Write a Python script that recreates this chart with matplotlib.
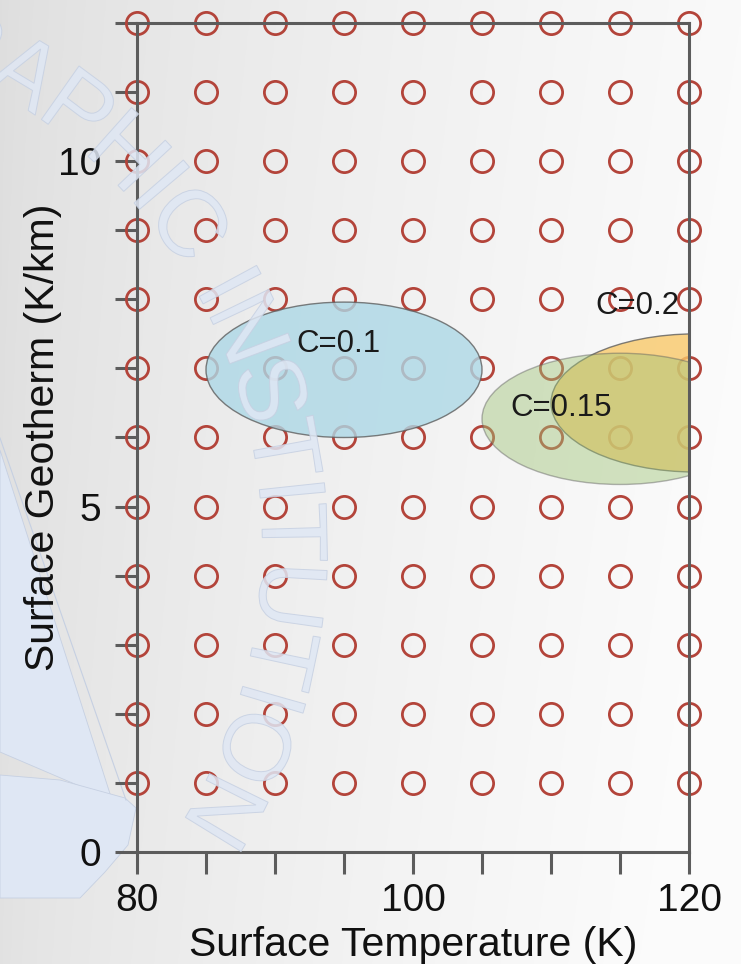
import numpy as np
import matplotlib
matplotlib.use("Agg")
import matplotlib.pyplot as plt
from matplotlib.patches import Ellipse, Polygon, PathPatch
from matplotlib.path import Path
from matplotlib.textpath import TextPath
from matplotlib.font_manager import FontProperties

plt.rcParams['font.family'] = ['Liberation Sans', 'DejaVu Sans']

# sampled model grid
temps = [80, 85, 90, 95, 100, 105, 110, 115, 120]
geotherms = [1, 2, 3, 4, 5, 6, 7, 8, 9, 10, 11, 12]

# fitted regions for each composition
comp_labels = ['C=0.1', 'C=0.15', 'C=0.2']
comp_x = [95.0, 115.0, 120.5]
comp_y = [6.98, 6.27, 6.5]
comp_w = [20.0, 20.0, 21.0]
comp_h = [1.96, 1.9, 2.0]
label_x = [94.6, 110.7, 116.3]
label_y = [7.35, 6.42, 7.9]

comp_face = ['#add8e6', '#a0c478', '#f9c96a']
comp_alpha = [0.8, 0.45, 0.8]
comp_z = [2.2, 2.3, 2.2]

W, H = 741, 964
fig = plt.figure(figsize=(W / 100, H / 100), dpi=100)

# background: soft gray gradient plus faint watermark
bg = fig.add_axes([0, 0, 1, 1], zorder=-10)
gx = np.linspace(0, 1, 300)
gy = np.linspace(0, 1, 300)
GX, GY = np.meshgrid(gx, gy)
shade = 0.87 + 0.11 * GX ** 0.7 + 0.015 * GY
shade = np.clip(shade, 0, 0.985)
bg.imshow(np.dstack([shade] * 3), extent=[0, W, H, 0], aspect='auto')
bg.set_xlim(0, W)
bg.set_ylim(H, 0)
bg.axis('off')

wm_col = '#dfe7f4'
wm_edge = '#c6d0e2'
sail = [(0, 450), (112, 800), (0, 752)]
hull = [(0, 775), (60, 780), (125, 798), (136, 808), (128, 845),
        (105, 872), (80, 898), (0, 898)]
for poly in (sail, hull):
    bg.add_patch(Polygon(poly, closed=True, facecolor=wm_col,
                         edgecolor=wm_edge, lw=0.6))
bg.plot([0, 126], [438, 800], color=wm_edge, lw=0.8)

ax = fig.add_axes([137 / W, 1 - 852 / H, (689 - 137) / W, (852 - 23) / H])
ax.set_facecolor('none')

gt, gg = np.meshgrid(temps, geotherms)
ax.plot(gt.ravel(), gg.ravel(), 'o', ms=16, mfc='none', mec='#b3443a',
        mew=2.0, clip_on=False, zorder=2.1)

for i in range(len(comp_labels)):
    ax.add_patch(Ellipse((comp_x[i], comp_y[i]), comp_w[i], comp_h[i],
                         facecolor=comp_face[i], alpha=comp_alpha[i],
                         edgecolor='#5e5e5e', lw=1.0, zorder=comp_z[i]))
    ax.text(label_x[i], label_y[i], comp_labels[i], fontsize=22.5,
            color='#1a1a1a', ha='center', va='center', zorder=4)

ax.set_xlim(80, 120)
ax.set_ylim(0, 12)
ax.set_xticks([80, 100, 120])
ax.set_xticks([85, 90, 95, 105, 110, 115], minor=True)
ax.set_yticks([0, 5, 10])
ax.set_yticks([1, 2, 3, 4, 6, 7, 8, 9, 11, 12], minor=True)

spine_col = '#5c5c5c'
for s in ax.spines.values():
    s.set_color(spine_col)
    s.set_linewidth(2.2)
ax.tick_params(which='both', direction='out', length=16, width=2.2,
               color=spine_col, labelcolor='#111111', labelsize=28)
ax.tick_params(axis='y', which='both', pad=10)
ax.tick_params(axis='x', which='both', pad=6)

ax.set_xlabel('Surface Temperature (K)', fontsize=29.5, color='#111111')
ax.set_ylabel('Surface Geotherm (K/km)', fontsize=29.5, color='#111111')
ax.xaxis.set_label_coords(0.5, -0.089)
ax.yaxis.set_label_coords(-0.135, 0.5)

# arc-shaped watermark lettering, drawn over everything
wm_text = 'GRAPHIC INSTITUTION'
wm_size = 95
fp = FontProperties(family='Liberation Sans')
tp = TextPath((0, 0), wm_text, size=wm_size, prop=fp)
u_a0 = TextPath((0, 0), 'GR', size=wm_size, prop=fp).get_extents().x1
u_a1 = TextPath((0, 0), 'GRA', size=wm_size, prop=fp).get_extents().x1
u_a = 0.5 * (u_a0 + u_a1)
cap = TextPath((0, 0), 'H', size=wm_size, prop=fp).get_extents().y1
cx, cy, R = -258.0, 545.0, 553.0
theta_a = np.radians(59.2)
verts = tp.vertices.copy()
th = theta_a - (verts[:, 0] - u_a) / R
rr = R + (verts[:, 1] - cap / 2)
warped = np.column_stack([cx + rr * np.cos(th), cy - rr * np.sin(th)])
wm_path = Path(warped, tp.codes)
over = fig.add_axes([0, 0, 1, 1], zorder=10)
over.set_xlim(0, W)
over.set_ylim(H, 0)
over.axis('off')
over.patch.set_alpha(0)
over.add_patch(PathPatch(wm_path, facecolor=wm_col, edgecolor=wm_edge,
                         lw=0.7, alpha=0.85))

fig.savefig('out.png', dpi=100)
